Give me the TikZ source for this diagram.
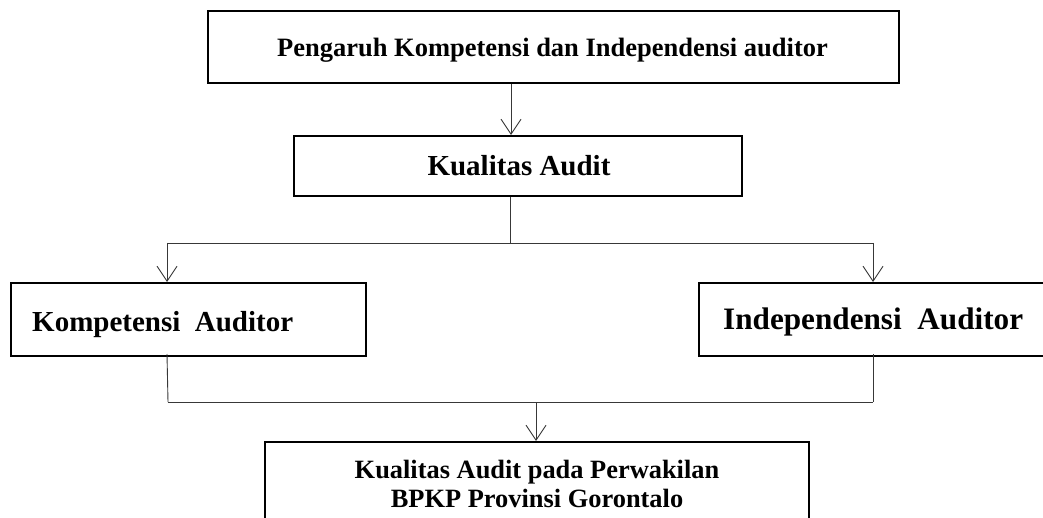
\documentclass[tikz,border=0pt]{standalone}
\usepackage{fontspec}
\setmainfont{Liberation Serif}
\usetikzlibrary{arrows.meta}
\tikzset{
  box/.style={draw=black, line width=2pt, rectangle, inner sep=0pt, fill=none},
  conn/.style={draw=black!78, line width=0.9pt},
  arr/.style={conn, -{Straight Barb[length=15pt,width=20pt,line width=0.9pt]}},
  lbl/.style={inner sep=0pt, font=\bfseries}
}
\begin{document}
\begin{tikzpicture}[x=1pt,y=-1pt]
\useasboundingbox (0,0) rectangle (1043,518);
\fill[white] (0,0) rectangle (1043,518);
% boxes
\node[box, minimum width=691pt, minimum height=72pt] (top) at (553.5,47) {};
\node[box, minimum width=448pt, minimum height=60pt] (kual) at (518,166) {};
\node[box, minimum width=355pt, minimum height=73pt] (komp) at (188.5,319.5) {};
\node[box, minimum width=347pt, minimum height=73pt] (indep) at (872.5,319.5) {};
\node[box, minimum width=544pt, minimum height=100pt] (bpkp) at (537,492) {};
% texts
\node[lbl, anchor=base, font=\bfseries\fontsize{26.5}{30}\selectfont] (ttop) at (552.5,57) {Pengaruh Kompetensi dan Independensi auditor};
\node[lbl, anchor=base, font=\bfseries\fontsize{29}{33}\selectfont] (tkual) at (519,176) {Kualitas Audit};
\node[lbl, anchor=base west, font=\bfseries\fontsize{29}{33}\selectfont] (tkomp) at (32,331) {Kompetensi\ \ Auditor};
\node[lbl, anchor=base west, font=\bfseries\fontsize{31.2}{35}\selectfont] (tindep) at (723,330) {Independensi\ \ Auditor};
\node[lbl, anchor=base, font=\bfseries\fontsize{26.4}{29}\selectfont] (tbpkp1) at (537,478) {Kualitas Audit pada Perwakilan};
\node[lbl, anchor=base, font=\bfseries\fontsize{26.4}{29}\selectfont] (tbpkp2) at (537,507) {BPKP Provinsi Gorontalo};
% junction coordinates
\coordinate (a0) at (511,0);
\coordinate (j1) at (510,243);
\coordinate (jl) at (167,243);
\coordinate (jr) at (873,243);
\coordinate (kl) at (168,402);
\coordinate (kr) at (873,402);
\coordinate (jm) at (536,402);
% connectors
\draw[arr] (top.south -| a0) -- (kual.north -| a0);
\draw[conn] (kual.south -| j1) -- (j1);
\draw[conn] (jl) -- (jr);
\draw[arr] (jl) -- (komp.north -| jl);
\draw[arr] (jr) -- (indep.north -| jr);
\draw[conn] ([yshift=3pt]komp.south -| jl) -- (kl);
\draw[conn] ([yshift=3pt]indep.south -| kr) -- (kr);
\draw[conn] (kl) -- (kr);
\draw[arr] (jm) -- (bpkp.north -| jm);
\end{tikzpicture}
\end{document}
